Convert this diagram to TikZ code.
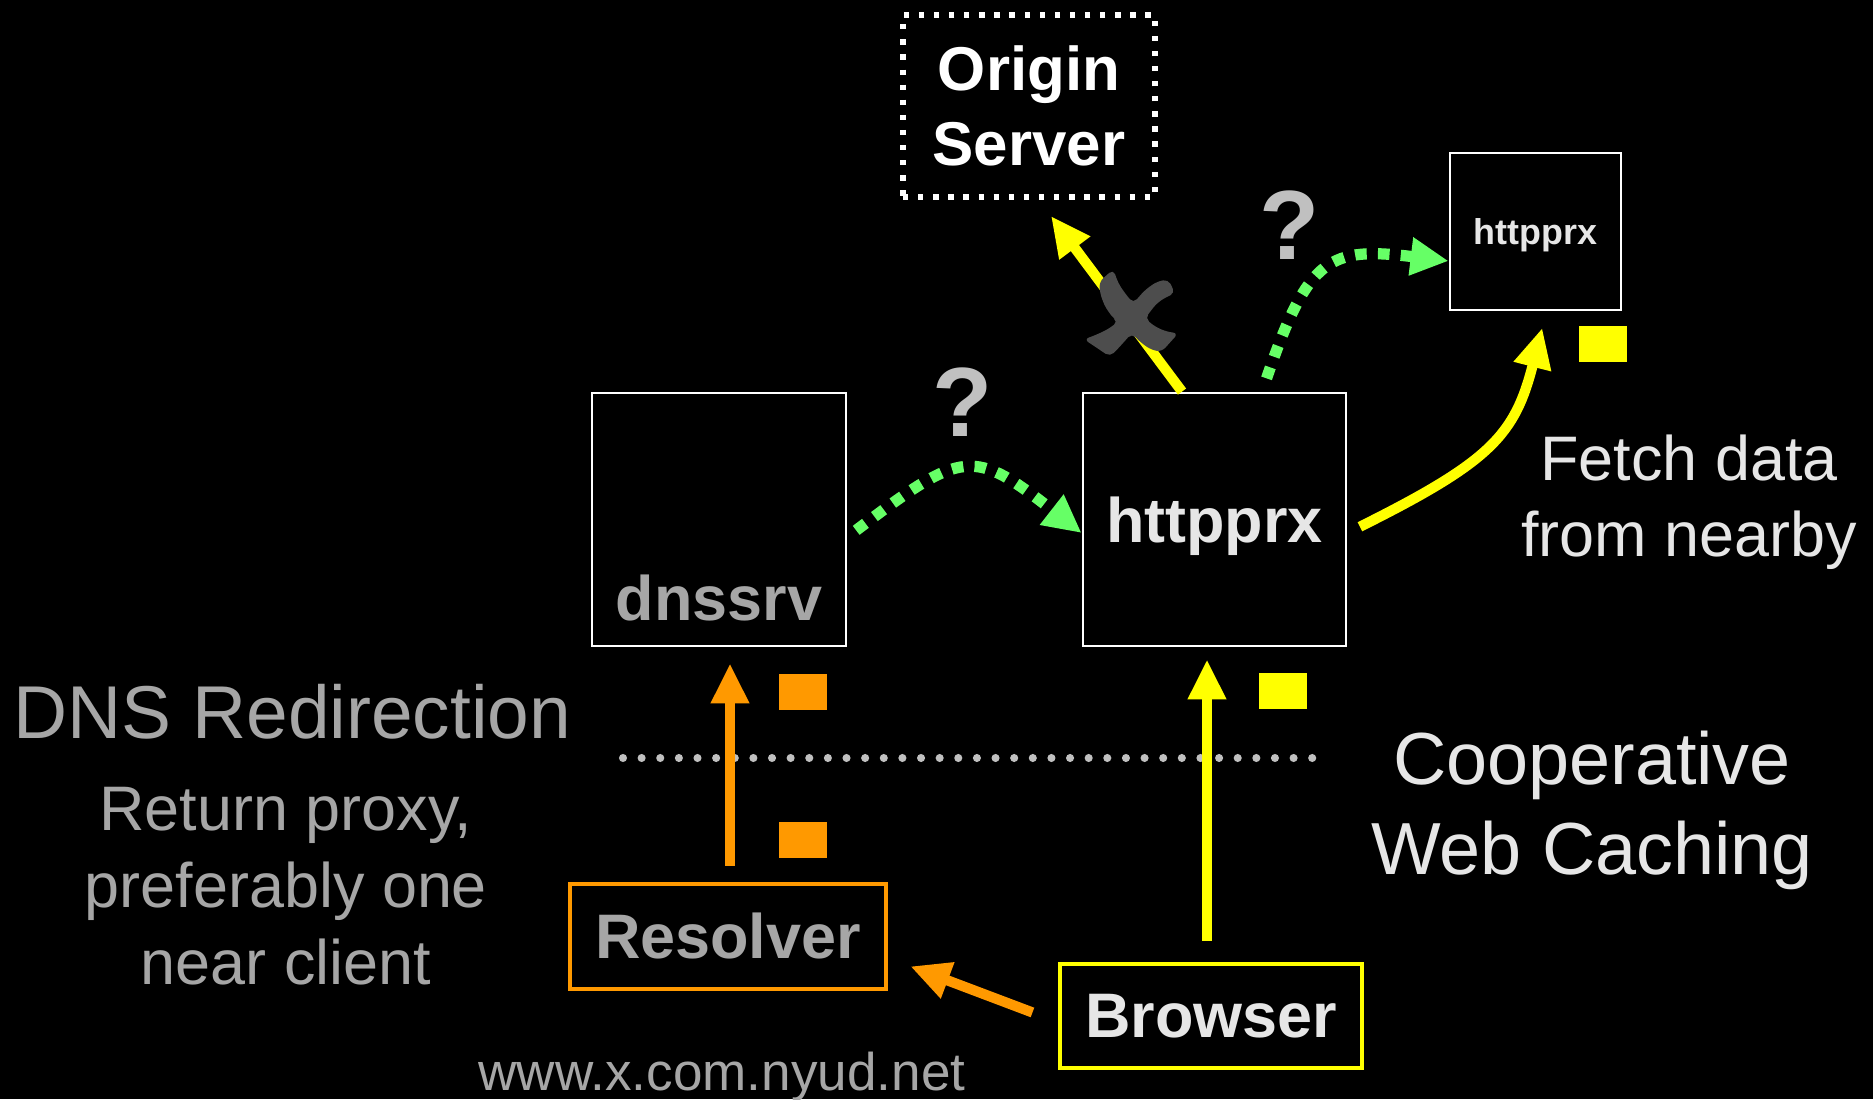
\documentclass[tikz,border=0pt]{standalone}
\usepackage{fontspec}
\setmainfont{Liberation Sans}
\usepackage{xcolor}
\usetikzlibrary{arrows.meta}

\definecolor{hiyellow}{RGB}{255,255,0}
\definecolor{dnsorange}{RGB}{255,153,0}
\definecolor{qgreen}{RGB}{102,255,102}
\definecolor{dimtext}{RGB}{166,166,166}
\definecolor{lighttext}{RGB}{230,230,230}
\definecolor{qgray}{RGB}{192,192,192}
\definecolor{crossgray}{RGB}{77,77,77}

\begin{document}
\begin{tikzpicture}[
  every node/.style={inner sep=0pt},
  host/.style={draw=white, line width=0.8pt, text=lighttext, text depth=0pt,
    font=\fontsize{17.9}{21.5}\selectfont\bfseries},
  client/.style={draw=#1, line width=1.3pt, font=\fontsize{17.9}{21.5}\selectfont\bfseries},
  packet/.style={fill=#1, minimum width=0.48cm, minimum height=0.36cm},
  flow/.style={draw=#1, line width=2.9pt, -{Triangle[length=0.4cm,width=0.36cm]}},
  probe/.style={draw=qgreen, line width=3.2pt, dash pattern=on 3.3pt off 3.2pt,
    -{Triangle[length=0.38cm,width=0.36cm]}},
  note/.style={align=center, font=\fontsize{17.9}{21.8}\selectfont},
  query/.style={text=qgray, anchor=base, font=\fontsize{28}{28}\selectfont\bfseries}
]
% Frame
\useasboundingbox (0,0) rectangle (18.73,10.99);
\fill[black] (0,0) rectangle (18.73,10.99);

% Servers
\node[draw=white, line width=1.7pt, dash pattern=on 1.5pt off 2.8pt,
  minimum width=2.52cm, minimum height=1.82cm, align=center, text=white,
  font=\fontsize{17.6}{21.3}\selectfont\bfseries] (origin) at (10.29,9.93) {Origin\\Server};
\node[host, minimum width=2.54cm, minimum height=2.53cm] (dns) at (7.19,5.795) {};
\node[anchor=base, text=dimtext, font=\fontsize{17.9}{21.5}\selectfont\bfseries]
  (dnsl) at ([yshift=0.27cm]dns.south) {dnssrv};
\node[host, minimum width=2.63cm, minimum height=2.53cm] (prx) at (12.145,5.795) {httpprx};
\node[host, minimum width=1.71cm, minimum height=1.57cm,
  font=\fontsize{10.2}{12}\selectfont\bfseries] (peer) at (15.355,8.675) {httpprx};

% Clients
\node[client=dnsorange, text=dimtext, minimum width=3.16cm, minimum height=1.05cm]
  (res) at (7.28,1.625) {Resolver};
\node[client=hiyellow, text=lighttext, minimum width=3.02cm, minimum height=1.04cm]
  (brw) at (12.11,0.83) {Browser};

% Packets
\node[packet=hiyellow] (pk1) at (16.03,7.55) {};
\node[packet=hiyellow] (pk2) at (12.825,4.08) {};
\node[packet=dnsorange] (pk3) at (8.03,4.075) {};
\node[packet=dnsorange] (pk4) at (8.03,2.59) {};

% Boundary
\draw[qgray, line width=2.3pt, line cap=round, dash pattern=on 0pt off 5.3pt]
  (6.23,3.41) -- (13.20,3.41);

% Requests
\draw[flow=dnsorange, shorten <=0.16cm, shorten >=0.16cm]
  ([xshift=0.02cm]res.north) -- ([xshift=0.02cm]res.north |- dns.south);
\draw[flow=dnsorange, shorten <=0.27cm, shorten >=0.235cm]
  ([yshift=-0.06cm]brw.west) -- ([yshift=-0.215cm]res.east);
\draw[flow=hiyellow, shorten <=0.21cm, shorten >=0.12cm]
  ([xshift=-0.04cm]brw.north) -- ([xshift=-0.04cm]brw.north |- prx.south);
\draw[flow=hiyellow, shorten >=0.2cm]
  ([xshift=-0.325cm]prx.north) -- ([xshift=0.10cm]origin.south);
\draw[flow=hiyellow, shorten <=0.14cm, shorten >=0.17cm]
  ([yshift=-0.135cm]prx.east) .. controls +(1.445,0.72) and +(-0.315,-1.23)
  .. ([xshift=0.11cm]peer.south);

% Lookups
\draw[probe, shorten <=0.11cm]
  ([yshift=-0.175cm]dns.east) .. controls +(1.165,0.885) and +(-1.085,0.848)
  .. ([yshift=-0.135cm]prx.west);
\draw[probe, shorten <=0.14cm]
  ([xshift=0.475cm]prx.north) .. controls +(0.465,1.354) and +(-1.19,0.144)
  .. ([yshift=-0.295cm]peer.west);

% Blocked mark
\begin{scope}[shift={(11.31,7.86)}]
\fill[crossgray, rounded corners=1.5pt]
  (-0.317,0.313) -- (-0.31,0.197) -- (-0.26,0.063) -- (-0.177,-0.053)
  -- (-0.127,-0.087) -- (-0.243,-0.17) -- (-0.377,-0.23) -- (-0.47,-0.263)
  -- (-0.21,-0.437) -- (-0.127,-0.353) -- (0.007,-0.203) -- (0.107,-0.303)
  -- (0.207,-0.37) -- (0.307,-0.387) -- (0.473,-0.203) -- (0.357,-0.187)
  -- (0.24,-0.137) -- (0.14,-0.053) -- (0.257,0.097) -- (0.357,0.163)
  -- (0.44,0.197) -- (0.373,0.337) -- (0.257,0.313) -- (0.14,0.23)
  -- (0.023,0.097) -- (-0.06,0.197) -- (-0.127,0.297) -- (-0.177,0.437) -- cycle;
\end{scope}
\node[query] (q1) at (9.63,6.63) {?};
\node[query] (q2) at (12.90,8.39) {?};

% Captions
\node[anchor=base west, text=dimtext, font=\fontsize{21.3}{25}\selectfont]
  (dnsredir) at (0.13,3.61) {DNS Redirection};
\node[note, text=dimtext, anchor=north] (dnsnote) at (2.86,3.12)
  {Return proxy,\\preferably one\\near client};
\node[align=center, text=lighttext, anchor=north, font=\fontsize{21}{25.6}\selectfont]
  (cwc) at (15.92,3.69) {Cooperative\\Web Caching};
\node[note, text=lighttext, anchor=north] (fetch) at (16.89,6.65) {Fetch data\\from nearby};
\node[anchor=base, text=dimtext, font=\fontsize{15.1}{18}\selectfont]
  (url) at (7.22,0.09) {www.x.com.nyud.net};
\end{tikzpicture}
\end{document}
